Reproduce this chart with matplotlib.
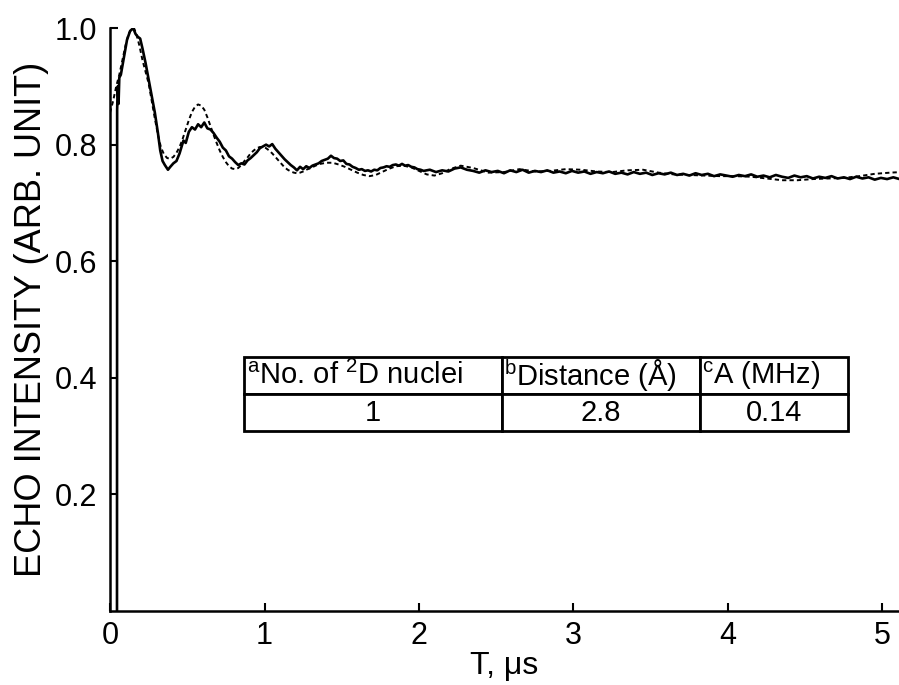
import numpy as np
import matplotlib
matplotlib.use("Agg")
import matplotlib.pyplot as plt

plt.rcParams['font.family'] = ['Liberation Sans', 'DejaVu Sans']
plt.rcParams['mathtext.fontset'] = 'custom'
plt.rcParams['mathtext.rm'] = 'Liberation Sans'
plt.rcParams['mathtext.it'] = 'Liberation Sans'

# measured echo decay (solid)
t_meas = [0.045, 0.046, 0.05, 0.055, 0.06, 0.07, 0.09, 0.11, 0.13, 0.15, 0.165, 0.18,
          0.195, 0.21, 0.23, 0.25, 0.27, 0.29, 0.31, 0.325, 0.34, 0.355, 0.375, 0.39,
          0.41, 0.43, 0.45, 0.475, 0.49, 0.51, 0.53, 0.55, 0.57, 0.59, 0.61, 0.63,
          0.65, 0.67, 0.69, 0.71, 0.73, 0.75, 0.77, 0.79, 0.81, 0.83, 0.85, 0.87,
          0.89, 0.91, 0.93, 0.95, 0.97, 0.99, 1.01, 1.03, 1.05, 1.07, 1.09, 1.11,
          1.13, 1.15, 1.17, 1.19, 1.21, 1.23, 1.25, 1.27, 1.29, 1.31, 1.33, 1.35,
          1.37, 1.39, 1.41, 1.43, 1.45, 1.47, 1.49, 1.51, 1.53, 1.55, 1.57, 1.59,
          1.61, 1.63, 1.65, 1.67, 1.69, 1.71, 1.73, 1.75, 1.77, 1.79, 1.81, 1.83,
          1.85, 1.87, 1.89, 1.91, 1.93, 1.95, 1.97, 1.99, 2.01, 2.03, 2.07, 2.11,
          2.15, 2.19, 2.23, 2.27, 2.31, 2.35, 2.39, 2.43, 2.47, 2.51, 2.55, 2.59,
          2.63, 2.67, 2.71, 2.75, 2.79, 2.83, 2.87, 2.91, 2.95, 2.99, 3.03, 3.07,
          3.11, 3.15, 3.19, 3.23, 3.27, 3.31, 3.35, 3.39, 3.43, 3.47, 3.51, 3.55,
          3.59, 3.63, 3.67, 3.71, 3.75, 3.79, 3.83, 3.87, 3.91, 3.95, 3.99, 4.03,
          4.07, 4.11, 4.15, 4.19, 4.23, 4.27, 4.31, 4.35, 4.39, 4.43, 4.47, 4.51,
          4.55, 4.59, 4.63, 4.67, 4.71, 4.75, 4.79, 4.83, 4.87, 4.91, 4.95, 4.99,
          5.03, 5.07, 5.11]
echo_meas = [0.0, 0.86, 0.90, 0.87, 0.915, 0.92, 0.95, 0.98, 0.995, 1.0, 0.99, 0.985,
             0.982, 0.965, 0.94, 0.912, 0.885, 0.855, 0.82, 0.79, 0.772, 0.765, 0.757, 0.762,
             0.768, 0.772, 0.785, 0.807, 0.803, 0.822, 0.83, 0.826, 0.835, 0.83, 0.838, 0.828,
             0.826, 0.82, 0.812, 0.805, 0.795, 0.79, 0.78, 0.776, 0.77, 0.765, 0.768, 0.766,
             0.773, 0.777, 0.782, 0.787, 0.794, 0.797, 0.80, 0.797, 0.801, 0.793, 0.787, 0.781,
             0.775, 0.77, 0.765, 0.761, 0.756, 0.762, 0.758, 0.763, 0.76, 0.764, 0.766, 0.768,
             0.772, 0.774, 0.776, 0.781, 0.777, 0.776, 0.772, 0.773, 0.767, 0.766, 0.762, 0.76,
             0.757, 0.758, 0.755, 0.756, 0.754, 0.757, 0.756, 0.76, 0.761, 0.763, 0.762, 0.765,
             0.766, 0.764, 0.767, 0.764, 0.765, 0.762, 0.761, 0.758, 0.757, 0.755, 0.757, 0.753,
             0.756, 0.754, 0.759, 0.761, 0.757, 0.755, 0.752, 0.756, 0.753, 0.755, 0.751, 0.756,
             0.753, 0.757, 0.752, 0.755, 0.753, 0.756, 0.752, 0.754, 0.751, 0.755, 0.752, 0.754,
             0.75, 0.753, 0.751, 0.754, 0.75, 0.752, 0.749, 0.753, 0.75, 0.752, 0.748, 0.751,
             0.749, 0.752, 0.748, 0.75, 0.747, 0.751, 0.748, 0.75, 0.746, 0.749, 0.747, 0.745,
             0.748, 0.746, 0.749, 0.745, 0.747, 0.744, 0.748, 0.745, 0.743, 0.747, 0.744, 0.746,
             0.742, 0.745, 0.743, 0.746, 0.742, 0.744, 0.741, 0.745, 0.742, 0.744, 0.74, 0.743,
             0.741, 0.744, 0.741]

# simulated decay (dashed)
t_sim = [0.0, 0.02, 0.04, 0.06, 0.08, 0.10, 0.12, 0.14, 0.155, 0.17, 0.19, 0.21, 0.23,
         0.25, 0.27, 0.29, 0.31, 0.33, 0.35, 0.37, 0.39, 0.41, 0.43, 0.45, 0.47, 0.49,
         0.51, 0.53, 0.55, 0.57, 0.59, 0.61, 0.63, 0.65, 0.67, 0.69, 0.71, 0.73, 0.75,
         0.77, 0.79, 0.81, 0.83, 0.85, 0.87, 0.89, 0.91, 0.93, 0.95, 0.97, 0.99, 1.01,
         1.03, 1.05, 1.07, 1.09, 1.11, 1.13, 1.15, 1.17, 1.19, 1.21, 1.23, 1.25, 1.27,
         1.30, 1.33, 1.36, 1.40, 1.44, 1.48, 1.52, 1.56, 1.60, 1.64, 1.68, 1.72, 1.76,
         1.80, 1.85, 1.90, 1.95, 2.0, 2.05, 2.1, 2.15, 2.2, 2.27, 2.35, 2.45, 2.55, 2.65,
         2.75, 2.85, 2.95, 3.05, 3.15, 3.25, 3.35, 3.45, 3.55, 3.65, 3.75, 3.85, 3.95,
         4.05, 4.15, 4.25, 4.35, 4.45, 4.55, 4.65, 4.75, 4.85, 4.95, 5.05, 5.12]
echo_sim = [0.855, 0.875, 0.90, 0.92, 0.945, 0.97, 0.99, 0.999, 1.0, 0.99, 0.97, 0.945, 0.925,
            0.905, 0.875, 0.845, 0.817, 0.795, 0.783, 0.777, 0.776, 0.779, 0.786, 0.796, 0.81, 0.826,
            0.842, 0.856, 0.865, 0.869, 0.867, 0.86, 0.847, 0.832, 0.817, 0.803, 0.79, 0.779, 0.77,
            0.763, 0.759, 0.758, 0.76, 0.765, 0.772, 0.778, 0.785, 0.79, 0.794, 0.796, 0.796, 0.794,
            0.79, 0.785, 0.779, 0.773, 0.767, 0.761, 0.757, 0.754, 0.752, 0.751, 0.752, 0.754, 0.757,
            0.76, 0.764, 0.767, 0.769, 0.769, 0.766, 0.762, 0.757, 0.752, 0.748, 0.746, 0.748, 0.753,
            0.758, 0.763, 0.764, 0.761, 0.755, 0.749, 0.747, 0.751, 0.758, 0.764, 0.76, 0.752, 0.753, 0.758,
            0.754, 0.755, 0.758, 0.757, 0.754, 0.753, 0.756, 0.757, 0.752, 0.749, 0.748, 0.747, 0.746,
            0.746, 0.745, 0.742, 0.739, 0.739, 0.741, 0.742, 0.743, 0.746, 0.75, 0.752, 0.753]

col_labels = [r'$^{\mathrm{a}}$No. of $^{\mathrm{2}}$D nuclei',
              r'$^{\mathrm{b}}$Distance (Å)',
              r'$^{\mathrm{c}}$A (MHz)']
row_values = ['1', '2.8', '0.14']

fig = plt.figure(figsize=(8.99, 6.85), dpi=100)
ax = fig.add_axes([0.1224, 0.108, 0.8776, 0.851])

ax.plot(t_sim, echo_sim, color='black', lw=1.4, linestyle=(0, (2.2, 1.6)))
ax.plot(t_meas, echo_meas, color='black', lw=1.9)

ax.set_xlim(0, 5.107)
ax.set_ylim(0, 1.0)
ax.set_xticks([0, 1, 2, 3, 4, 5])
ax.set_yticks([0.2, 0.4, 0.6, 0.8, 1.0])
ax.set_yticklabels(['0.2', '0.4', '0.6', '0.8', '1.0'])
ax.tick_params(direction='in', length=6, width=1.5, labelsize=22)
ax.tick_params(axis='x', pad=7)
ax.tick_params(axis='y', pad=9)
for side in ['top', 'right']:
    ax.spines[side].set_visible(False)
for side in ['left', 'bottom']:
    ax.spines[side].set_linewidth(1.8)

ax.set_xlabel('T, μs', fontsize=23, labelpad=0)
ax.set_ylabel('ECHO INTENSITY (ARB. UNIT)', fontsize=26, labelpad=4)

# parameter table
tbl = ax.table(cellText=[row_values], colLabels=col_labels,
               colWidths=[0.427, 0.328, 0.245],
               bbox=[0.867 / 5.107, 0.3086, (4.777 - 0.867) / 5.107, 0.4355 - 0.3086],
               cellLoc='center')
tbl.auto_set_font_size(False)
for (r, c), cell in tbl.get_celld().items():
    cell.set_linewidth(2.0)
    cell.set_edgecolor('black')
    cell.get_text().set_fontsize(21)
    if r == 0:
        cell.get_text().set_ha('left')
        cell._loc = 'left'
        cell.PAD = 0.01

fig.savefig('out.png', dpi=100)
